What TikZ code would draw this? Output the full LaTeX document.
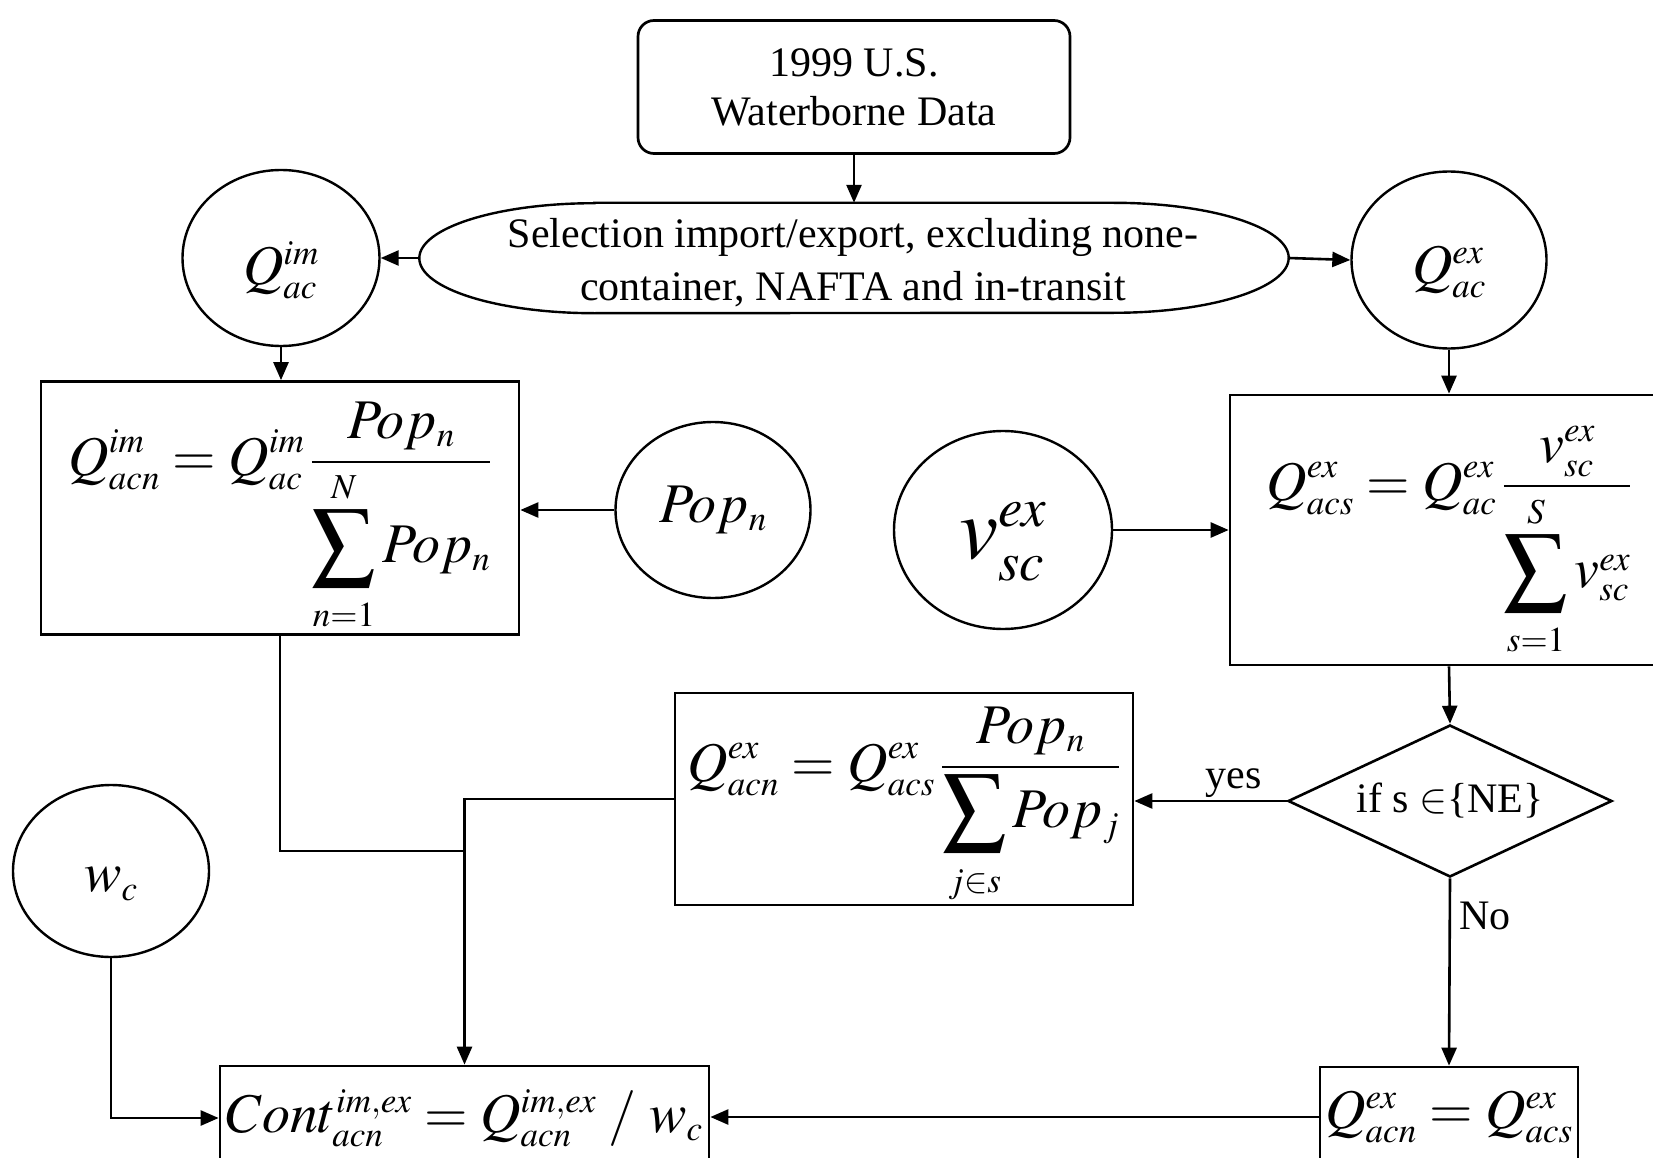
\documentclass[tikz,border=0pt]{standalone}
\usepackage{graphicx}
\usepackage{mathptmx}
\usepackage{fontspec}
\setmainfont{Liberation Serif}
\usetikzlibrary{arrows.meta,shapes.geometric}
\DeclareMathSizes{56}{56}{35}{27}
\DeclareMathSizes{88}{88}{55}{40}
\DeclareMathSizes{42}{42}{29}{21}
\newcommand{\bigS}{\mathop{\vcenter{\hbox{\scalebox{1.12}{$\displaystyle\sum$}}}}\limits}
\newcommand{\lowr}[2]{\raisebox{-#1}[\height][\depth]{#2}}
\newcommand{\gapup}{\rule[-5pt]{0pt}{5pt}}
\newcommand{\gapdn}{\rule{0pt}{30pt}}
\tikzset{
  box/.style={draw, rectangle, line width=2.7pt, inner sep=0pt},
  circ/.style={draw, ellipse, line width=2.4pt, inner sep=0pt},
  arr/.style={line width=2.6pt, -{Triangle[length=18pt,width=15pt]}},
  ln/.style={line width=2.6pt},
  txt/.style={font=\fontsize{42}{49}\selectfont, align=center},
  frm/.style={font=\fontsize{56}{60}\selectfont},
  lbl/.style={font=\fontsize{42}{48}\selectfont, inner sep=2pt},
}
\begin{document}
\begin{tikzpicture}[x=1pt,y=-1pt]
\useasboundingbox (0,0) rectangle (1653,1158);
% nodes
\node[box, rounded corners=16pt, minimum width=432pt, minimum height=133pt, txt] (data) at (854,87) {1999 U.S.\\Waterborne Data};
\node[rectangle, inner sep=0pt, minimum width=869pt, minimum height=110pt] (sel) at (854,258) {};
\draw[line width=2.4pt] ([xshift=175pt]sel.north west) -- ([xshift=-175pt]sel.north east)
  arc[start angle=90, end angle=-90, x radius=175pt, y radius=55pt]
  -- ([xshift=175pt]sel.south west)
  arc[start angle=270, end angle=90, x radius=175pt, y radius=55pt] -- cycle;
\node[txt, font=\fontsize{42}{53}\selectfont] (seltxt) at (853,263) {Selection import/export, excluding none-\\container, NAFTA and in-transit};
\node[circ, minimum width=197pt, minimum height=176pt, frm] (qim) at (281,258) {\lowr{12pt}{$Q^{im}_{ac}$}};
\node[circ, minimum width=195pt, minimum height=177pt, frm] (qex) at (1449,260) {\lowr{12pt}{$Q^{ex}_{ac}$}};
\node[box, minimum width=478pt, minimum height=253pt, frm] (lbox) at (280,508) {\lowr{9pt}{$\displaystyle Q^{im}_{acn} = Q^{im}_{ac}\,\frac{Pop_n}{\bigS_{\gapdn n=1}^{N\gapup} Pop_n}$}};
\node[circ, minimum width=195pt, minimum height=176pt, frm] (pop) at (713,510) {$Pop_n$};
\node[circ, minimum width=218pt, minimum height=198pt, font=\fontsize{88}{90}\selectfont] (vsc) at (1003,530) {\lowr{12pt}{$v^{ex}_{sc}$}};
\node[box, minimum width=438pt, minimum height=270pt, frm] (rbox) at (1449,530) {\lowr{12pt}{$\displaystyle Q^{ex}_{acs} = Q^{ex}_{ac}\,\frac{v^{ex}_{sc}}{\bigS_{\gapdn s=1}^{S\gapup} v^{ex}_{sc}}$}};
\node[draw, diamond, line width=2.6pt, minimum width=324pt, minimum height=152pt, inner sep=0pt, shape aspect=2.13, font=\fontsize{42}{48}\selectfont] (cond) at (1450,801) {if s $\in$\{NE\}};
\node[box, minimum width=458pt, minimum height=212pt, frm] (mbox) at (904,799) {\lowr{7pt}{$\displaystyle Q^{ex}_{acn} = Q^{ex}_{acs}\,\frac{Pop_n}{\bigS_{\gapdn j\in s} Pop_j}$}};
\node[circ, minimum width=196pt, minimum height=172pt, frm] (wc) at (111,871) {\lowr{13pt}{$w_c$}};
\node[box, minimum width=489pt, minimum height=104pt, frm] (cont) at (464.5,1118) {$Cont^{im,ex}_{acn} = Q^{im,ex}_{acn}\;/\;w_c$};
\node[box, minimum width=258pt, minimum height=100pt, frm] (qeq) at (1449,1117) {$Q^{ex}_{acn} = Q^{ex}_{acs}$};
\coordinate (jn) at (464.5,851);
% connectors
\draw[arr] (data.south) -- (sel.north);
\draw[arr] (sel.west) -- (qim.east);
\draw[arr] (sel.east) -- (qex.west);
\draw[arr] (qim.south) -- (qim.south |- lbox.north);
\draw[arr] (qex.south) -- (rbox.north);
\draw[arr] (pop.west) -- (pop.west -| lbox.east);
\draw[arr] (vsc.east) -- (rbox.west);
\draw[arr] (rbox.south) -- (cond.north);
\draw[arr] (cond.west) -- node[pos=0.35, above, lbl] (yeslbl) {yes} (cond.west -| mbox.east);
\draw[arr] (cond.south) -- node[pos=0.2, right, lbl, xshift=6pt] (nolbl) {No} (qeq.north);
\draw[arr] (qeq.west) -- (qeq.west -| cont.east);
\draw[arr] (wc.south) |- (cont.west);
\draw[ln] (lbox.south) |- (jn);
\draw[arr] (mbox.west) -| (cont.north);
\end{tikzpicture}
\end{document}
